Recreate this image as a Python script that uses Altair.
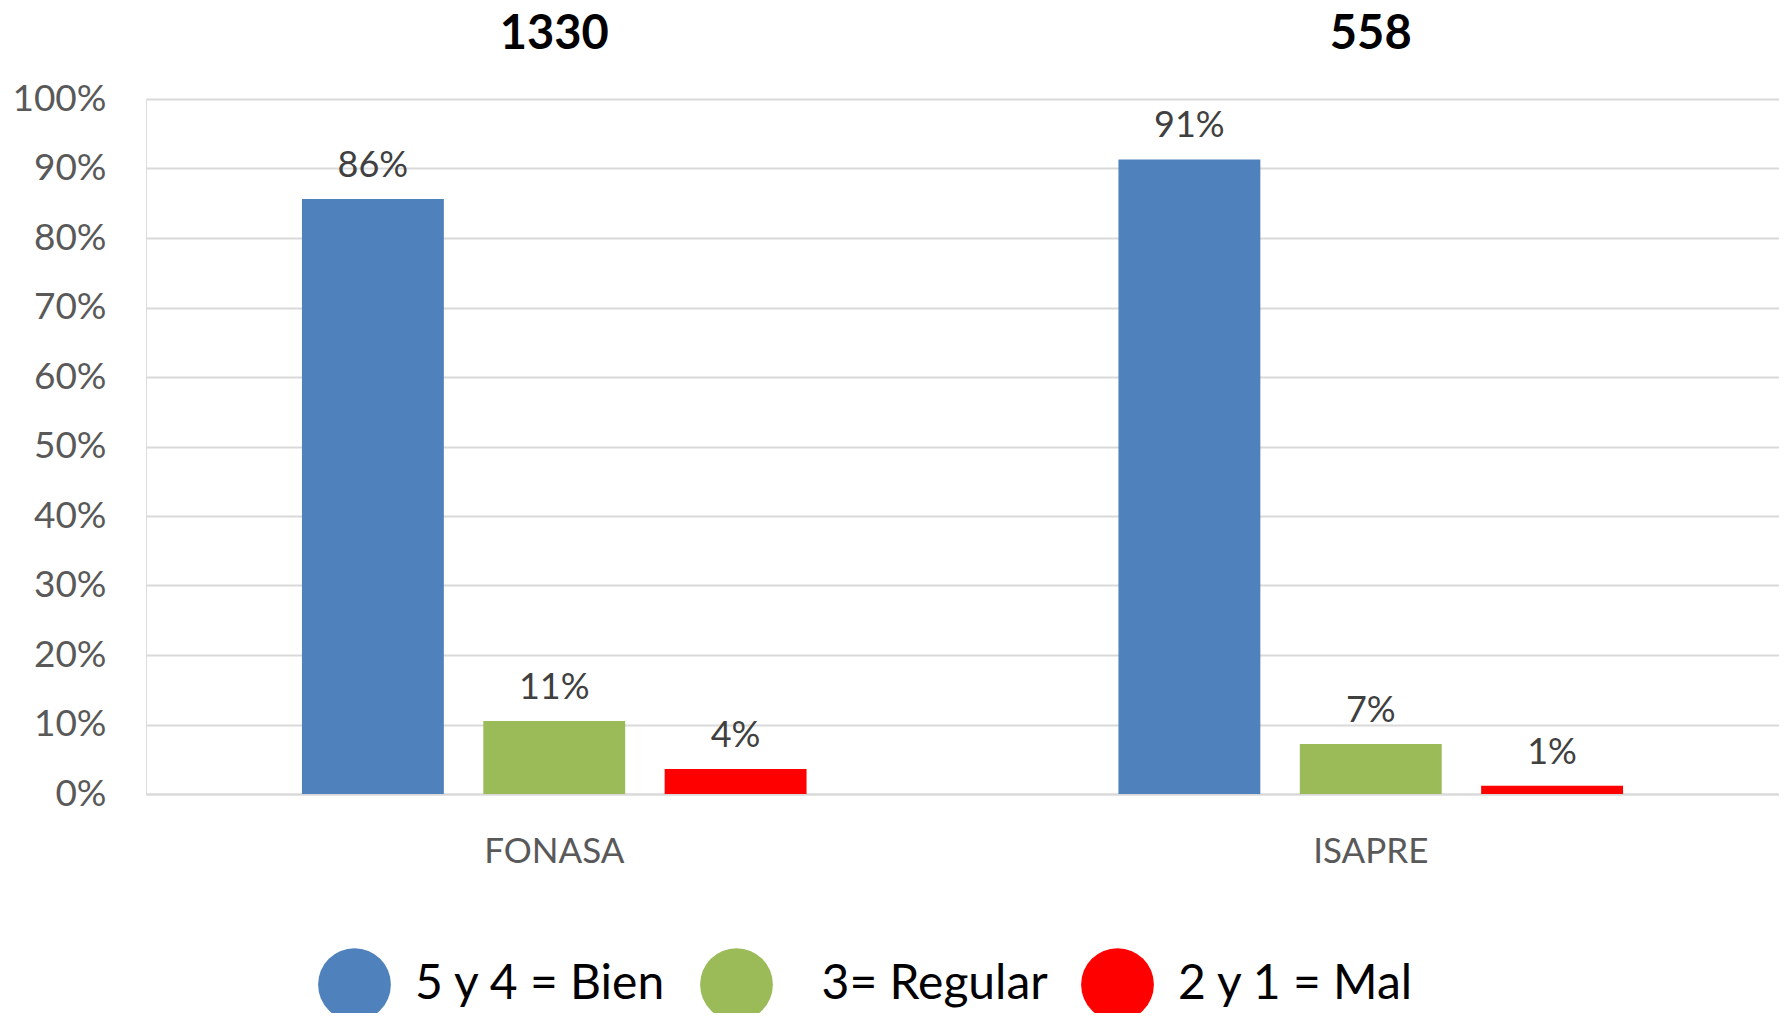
import altair as alt
import pandas as pd

groups = ["FONASA", "ISAPRE"]
totals = ["1330", "558"]
series = ["5 y 4 = Bien", "3= Regular", "2 y 1 = Mal"]
colors = ["#4f81bd", "#9bbb59", "#ff0000"]
fonasa_values = [85.6, 10.5, 3.6]
isapre_values = [91.3, 7.2, 1.2]
fonasa_labels = ["86%", "11%", "4%"]
isapre_labels = ["91%", "7%", "1%"]
y_ticks = [0, 10, 20, 30, 40, 50, 60, 70, 80, 90, 100]

rows = []
for g, vals, labs in [("FONASA", fonasa_values, fonasa_labels), ("ISAPRE", isapre_values, isapre_labels)]:
    for s, v, l in zip(series, vals, labs):
        rows.append({"group": g, "series": s, "value": v, "label": l})
df = pd.DataFrame(rows)
tdf = pd.DataFrame({"group": groups, "total": totals})

FONT = "Lato"

x_enc = alt.X("group:N", sort=groups,
              scale=alt.Scale(paddingInner=0.382, paddingOuter=0.191),
              axis=alt.Axis(title=None, labelAngle=0, labelFontSize=35, labelColor="#595959",
                            labelFont=FONT, labelPadding=40, ticks=False, domain=True,
                            domainColor="#d9d9d9", domainWidth=2, grid=False))
xoff = alt.XOffset("series:N", sort=series, scale=alt.Scale(paddingInner=0.2176, paddingOuter=0))
y_enc = alt.Y("value:Q", scale=alt.Scale(domain=[0, 100], nice=False),
              axis=alt.Axis(title=None, values=y_ticks, labelExpr="datum.value + '%'",
                            labelFontSize=37, labelColor="#595959", labelFont=FONT,
                            labelPadding=40, ticks=False, domain=False,
                            gridColor="#d9d9d9", gridWidth=2))

bars = alt.Chart(df).mark_bar().encode(
    x=x_enc, xOffset=xoff, y=y_enc,
    color=alt.Color("series:N", sort=series,
                    scale=alt.Scale(domain=series, range=colors),
                    legend=alt.Legend(title=None, orient="none", legendX=172, legendY=849,
                                      direction="horizontal", columns=3,
                                      symbolType="circle", symbolSize=5300,
                                      symbolStrokeWidth=0, symbolOpacity=1,
                                      labelFontSize=48, labelFont=FONT, labelColor="#000000",
                                      labelOffset=24, columnPadding=33, padding=0,
                                      labelLimit=400,
                                      labelExpr="indexof(datum.label, 'Regular') >= 0 ? '\u200b\u00a0\u00a0' + datum.label : datum.label")),
)

labels = alt.Chart(df).mark_text(font=FONT, fontSize=36, color="#404040",
                                 baseline="alphabetic", dy=-22).encode(
    x=alt.X("group:N", sort=groups), xOffset=alt.XOffset("series:N", sort=series),
    y=alt.Y("value:Q"), text="label:N")

titles = alt.Chart(tdf).mark_text(font=FONT, fontSize=47, fontWeight="bold", color="#000000",
                                  baseline="middle").encode(
    x=alt.X("group:N", sort=groups), y=alt.value(-64), text="total:N")

chart = alt.layer(bars, labels, titles).properties(
    width=1633, height=695,
    padding={"left": 138, "top": 91, "right": 0, "bottom": 219},
    autosize=alt.AutoSizeParams(type="none"),
).configure_view(stroke=None).configure(background="white")

chart.save("out.html", embed_options={"renderer": "svg", "actions": False})
